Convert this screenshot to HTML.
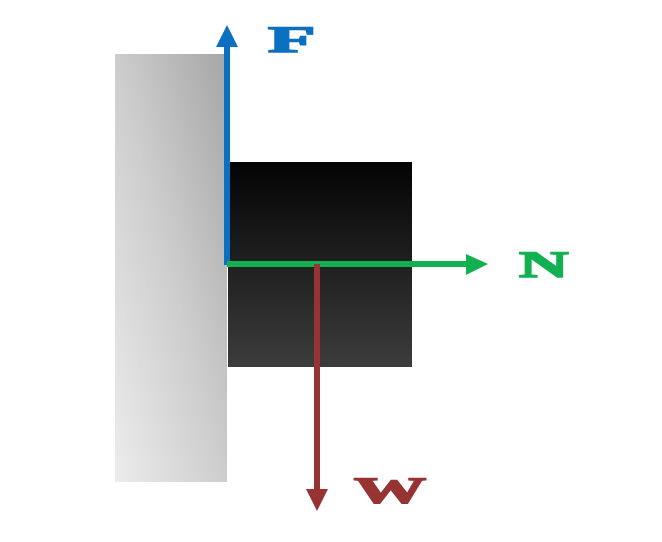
<!DOCTYPE html>
<html><head><style>html,body{margin:0;padding:0;background:#fff;}svg{display:block}</style></head>
<body>
<svg width="662" height="542" viewBox="0 0 662 542" xmlns="http://www.w3.org/2000/svg">
<defs>
<linearGradient id="wall" x1="0" y1="1" x2="1" y2="0">
<stop offset="0" stop-color="#ececec"/><stop offset="0.5" stop-color="#cdcdcd"/><stop offset="1" stop-color="#a6a6a6"/>
</linearGradient>
<linearGradient id="blk" x1="0" y1="0" x2="0" y2="1">
<stop offset="0" stop-color="#040404"/><stop offset="1" stop-color="#3c3c3c"/>
</linearGradient>
</defs>
<rect x="115" y="54" width="112" height="428" fill="url(#wall)"/>
<rect x="228" y="162" width="184" height="205" fill="url(#blk)"/>
<rect x="224" y="46" width="6" height="219" fill="#0b70c0"/>
<polygon points="227,25 216,47 238,47" fill="#0b70c0"/>
<rect x="227" y="261" width="241" height="6" fill="#12b050"/>
<polygon points="488,264 466,254 466,275" fill="#12b050"/>
<rect x="314" y="264" width="6" height="227" fill="#973433"/>
<polygon points="317,511 306,489 328,489" fill="#973433"/>
<g font-family="Liberation Serif, serif" font-weight="bold" stroke-width="1.5">
<text x="0" y="0" transform="translate(268,52) scale(2.1,1)" font-size="37" fill="#0b70c0" stroke="#0b70c0">F</text>
<text x="0" y="0" transform="translate(519,277) scale(1.85,1)" font-size="37" fill="#12b050" stroke="#12b050">N</text>
<text x="0" y="0" transform="translate(354,503) scale(1.95,1)" font-size="37" fill="#973433" stroke="#973433">W</text>
</g>
</svg>
</body></html>
